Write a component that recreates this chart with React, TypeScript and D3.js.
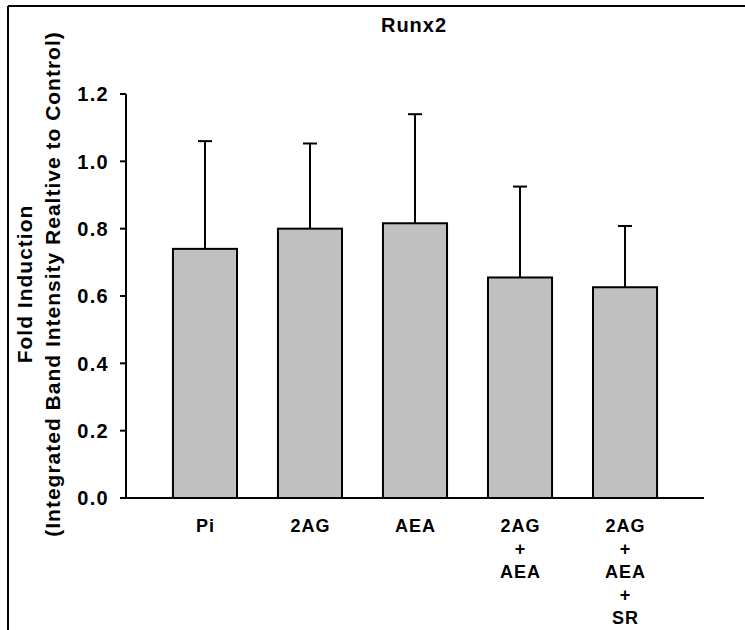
import { useEffect, useRef } from 'react';
import * as d3 from 'd3';

const categories = [['Pi'], ['2AG'], ['AEA'], ['2AG', '+', 'AEA'], ['2AG', '+', 'AEA', '+', 'SR']];
const means = [0.74, 0.8, 0.816, 0.655, 0.626];
const errors = [0.32, 0.253, 0.324, 0.27, 0.182];
const yTicks = [0, 0.2, 0.4, 0.6, 0.8, 1.0, 1.2];

export default function App() {
  const svgRef = useRef<SVGSVGElement>(null);

  useEffect(() => {
    if (!svgRef.current) return;
    const svg = d3.select(svgRef.current);
    svg.selectAll('*').remove();

    const font = '"Liberation Sans", Arial, sans-serif';
    const left = 126, right = 704, top = 94, bottom = 498;

    // frame (only top/left edges show)
    svg.append('line').attr('x1', 8).attr('y1', 6).attr('x2', 745).attr('y2', 6).attr('stroke', '#000').attr('stroke-width', 2);
    svg.append('line').attr('x1', 8).attr('y1', 6).attr('x2', 8).attr('y2', 630).attr('stroke', '#000').attr('stroke-width', 2);

    const keys = categories.map((_, i) => String(i));
    const x = d3.scaleBand<string>().domain(keys).range([left, right]).paddingInner(0.39).paddingOuter(0.447);
    const y = d3.scaleLinear().domain([0, 1.2]).range([bottom, top]);

    // bars + error bars
    const g = svg.append('g');
    means.forEach((m, i) => {
      const bx = x(String(i))!;
      g.append('rect')
        .attr('x', bx).attr('y', y(m))
        .attr('width', x.bandwidth()).attr('height', y(0) - y(m))
        .attr('fill', '#c0c0c0').attr('stroke', '#000').attr('stroke-width', 2);
      const cx = bx + x.bandwidth() / 2;
      const ye = y(m + errors[i]);
      g.append('line').attr('x1', cx).attr('x2', cx).attr('y1', y(m)).attr('y2', ye)
        .attr('stroke', '#000').attr('stroke-width', 2);
      g.append('line').attr('x1', cx - 7).attr('x2', cx + 7).attr('y1', ye).attr('y2', ye)
        .attr('stroke', '#000').attr('stroke-width', 2);
    });

    // axes
    svg.append('line').attr('x1', left).attr('x2', left).attr('y1', top).attr('y2', bottom).attr('stroke', '#000').attr('stroke-width', 2);
    svg.append('line').attr('x1', left - 6).attr('x2', right).attr('y1', bottom).attr('y2', bottom).attr('stroke', '#000').attr('stroke-width', 2);

    yTicks.forEach(t => {
      svg.append('line').attr('x1', left - 6).attr('x2', left).attr('y1', y(t)).attr('y2', y(t)).attr('stroke', '#000').attr('stroke-width', 2);
      svg.append('text').attr('x', 109).attr('y', y(t)).attr('dy', '0.36em')
        .attr('text-anchor', 'end').attr('font-family', font).attr('font-weight', 'bold')
        .attr('font-size', 20).attr('letter-spacing', 1.3)
        .text(t.toFixed(1));
    });

    categories.forEach((lines, i) => {
      const cx = x(String(i))! + x.bandwidth() / 2;
      const t = svg.append('text').attr('text-anchor', 'middle').attr('font-family', font)
        .attr('font-weight', 'bold').attr('font-size', 18).attr('letter-spacing', 1);
      lines.forEach((s, j) => {
        t.append('tspan').attr('x', cx + 0.5).attr('y', 532 + j * 23).text(s);
      });
    });

    // title
    svg.append('text').attr('x', 414).attr('y', 32).attr('text-anchor', 'middle')
      .attr('font-family', font).attr('font-weight', 'bold').attr('font-size', 20)
      .attr('letter-spacing', 1).text('Runx2');

    // y label
    const ylab = ['Fold Induction', '(Integrated Band Intensity Realtive to Control)'];
    ylab.forEach((s, j) => {
      svg.append('text').attr('transform', `translate(${32 + j * 28},284) rotate(-90)`)
        .attr('text-anchor', 'middle').attr('font-family', font).attr('font-weight', 'bold')
        .attr('font-size', 21).attr('letter-spacing', 1).text(s);
    });
  }, []);

  return (
    <div style={{ position: 'absolute', left: 0, top: 0 }}>
      <svg ref={svgRef} width={745} height={630} style={{ display: 'block', background: '#fff' }} />
    </div>
  );
}
